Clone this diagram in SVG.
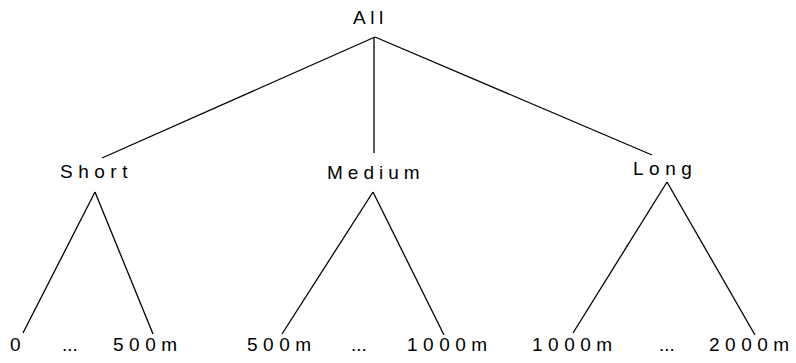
<svg xmlns="http://www.w3.org/2000/svg" width="796" height="363" viewBox="0 0 796 363">
<style>
text{font-family:"Liberation Sans",Arial,sans-serif;font-size:19px;fill:#000;letter-spacing:5.5px}
line{stroke:#000;stroke-width:1.3;fill:none}
</style>
<rect width="796" height="363" fill="#fff"/>
<g id="connectors">
<line x1="375" y1="37" x2="102" y2="158"/>
<line x1="374" y1="37" x2="374" y2="153"/>
<line x1="375" y1="37" x2="652" y2="155"/>
<line x1="95" y1="192" x2="23" y2="333"/>
<line x1="95" y1="192" x2="153" y2="334"/>
<line x1="373" y1="192" x2="282" y2="334"/>
<line x1="373" y1="192" x2="444" y2="335"/>
<line x1="667" y1="182" x2="573" y2="333"/>
<line x1="667" y1="182" x2="755" y2="335"/>
</g>
<g id="all"><text x="353" y="24" style="letter-spacing:4.5px">All</text></g>
<g id="short"><text x="60" y="178">Short</text></g>
<g id="medium"><text x="327" y="179" style="letter-spacing:5px">Medium</text></g>
<g id="long"><text x="633" y="175">Long</text></g>
<g id="short-range">
<text x="10" y="351">0</text>
<text x="62" y="351" style="letter-spacing:0">...</text>
<text x="113" y="351">500m</text>
</g>
<g id="medium-range">
<text x="247" y="351">500m</text>
<text x="351" y="351" style="letter-spacing:0">...</text>
<text x="407" y="351">1000m</text>
</g>
<g id="long-range">
<text x="532" y="351">1000m</text>
<text x="659" y="351" style="letter-spacing:0">...</text>
<text x="709" y="351">2000m</text>
</g>
</svg>
